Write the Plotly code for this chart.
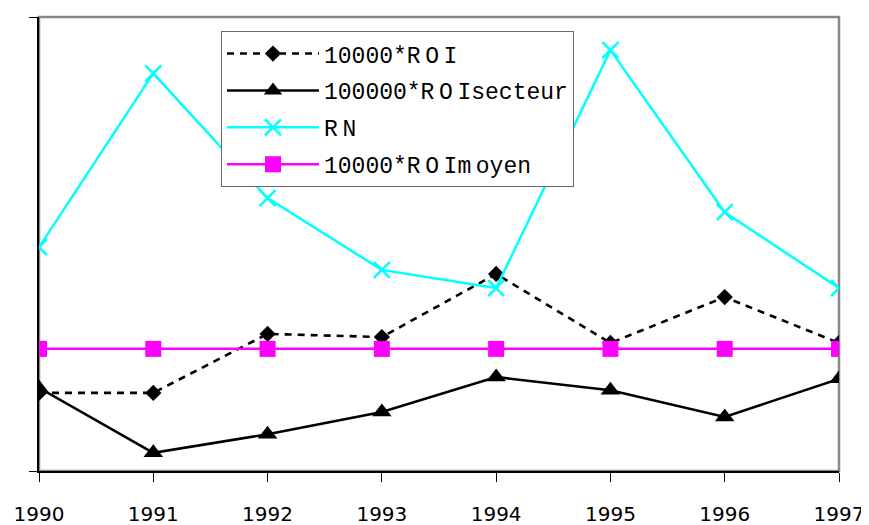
import plotly.graph_objects as go

years = [1990, 1991, 1992, 1993, 1994, 1995, 1996, 1997]
roi = [17.2, 17.2, 30.2, 29.5, 43.4, 28.2, 38.3, 28.2]
roi_secteur = [18.3, 4.0, 8.1, 13.0, 20.7, 17.8, 11.9, 20.3]
rn = [49.3, 87.6, 60.1, 44.3, 40.3, 92.7, 57.0, 40.3]
roi_moyen = [26.9, 26.9, 26.9, 26.9, 26.9, 26.9, 26.9, 26.9]

T = "\u2009"
names = ["10000*R" + T + "O" + T + "I",
         "100000*R" + T + "O" + T + "Isecteur",
         "R" + T + "N",
         "10000*R" + T + "O" + T + "Im" + T + "oyen"]

fig = go.Figure()
fig.add_trace(go.Scatter(
    x=years, y=roi, name=names[0], mode="lines+markers", legendgroup="a",
    line=dict(color="black", width=2.6, dash="7px,6px"),
    marker=dict(symbol="diamond", size=12.5, color="black")))
fig.add_trace(go.Scatter(
    x=years, y=roi_secteur, name=names[1], mode="lines+markers", legendgroup="b",
    line=dict(color="black", width=2.5),
    marker=dict(symbol="triangle-up", size=17, color="black")))
fig.add_trace(go.Scatter(
    x=years, y=rn, name=names[2], mode="lines+markers", legendgroup="c",
    line=dict(color="#00FFFF", width=2.5),
    marker=dict(symbol="x-thin", size=16, color="#00FFFF",
                line=dict(color="#00FFFF", width=2.5))))
fig.add_trace(go.Scatter(
    x=years, y=roi_moyen, name=names[3], mode="lines+markers", legendgroup="d",
    line=dict(color="#FF00FF", width=2.5),
    marker=dict(symbol="square", size=16, color="#FF00FF")))

fig.add_shape(type="rect", xref="paper", yref="paper", x0=0, x1=1, y0=0, y1=1,
              line=dict(color="#888888", width=2.5), layer="below")

fig.update_layout(
    width=861, height=517,
    margin=dict(l=31, r=30, t=9, b=54, autoexpand=False),
    paper_bgcolor="white", plot_bgcolor="white",
    showlegend=True,
    legend=dict(x=0.2275, y=0.969, xanchor="left", yanchor="top",
                bordercolor="#666666", borderwidth=1, bgcolor="white",
                font=dict(family="Liberation Mono", size=23, color="black"),
                tracegroupgap=4, itemwidth=92),
    xaxis=dict(range=[1990, 1997], tickvals=years, ticktext=[str(y) for y in years],
               automargin=False,
               showgrid=False, zeroline=False, showline=True, linecolor="black", linewidth=1.5,
               ticks="outside", ticklen=9, tickcolor="black", tickwidth=1,
               ticklabelstandoff=15,
               tickfont=dict(family="DejaVu Sans", size=20, color="black")),
    yaxis=dict(range=[0, 100], tickvals=[0, 100], showticklabels=False, automargin=False,
               showgrid=False, zeroline=False, showline=True, linecolor="black", linewidth=1.5,
               ticks="outside", ticklen=8, tickcolor="black", tickwidth=1),
)

fig.write_html("out.html")
